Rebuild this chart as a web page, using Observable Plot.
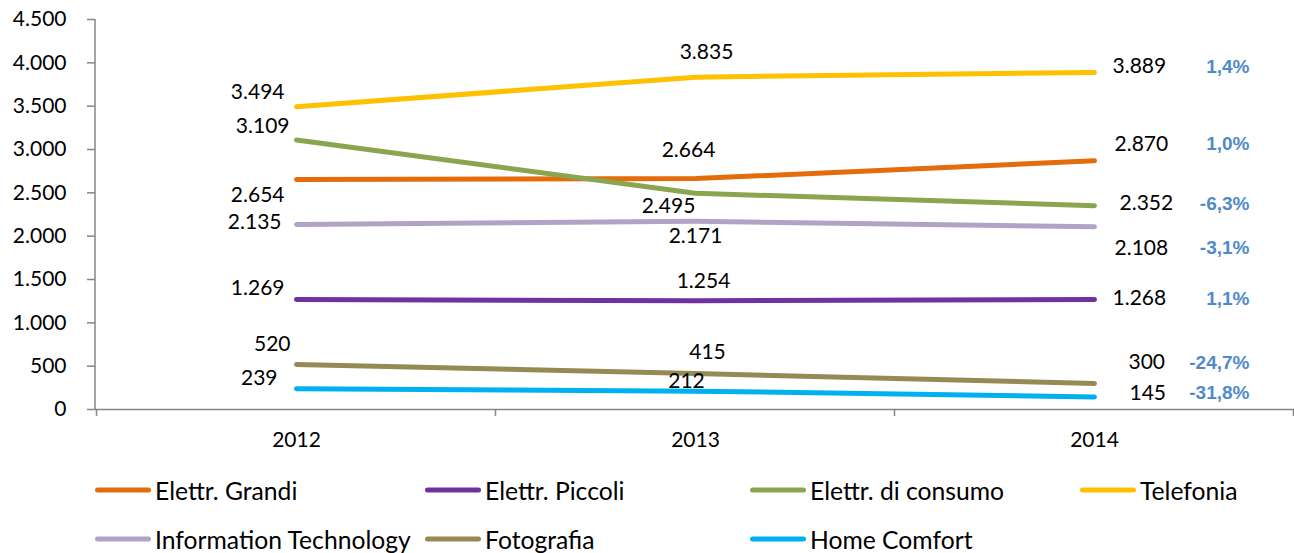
<!DOCTYPE html>
<html>
<head>
<meta charset="utf-8">
<script src="https://cdn.jsdelivr.net/npm/d3@7"></script>
<script src="https://cdn.jsdelivr.net/npm/@observablehq/plot@0.6"></script>
<style>
  html, body { margin: 0; padding: 0; background: #fff; }
  #wrap { width: 1294px; height: 553px; position: relative; font-family: Lato, "Open Sans", sans-serif; }
  #legend { position: relative; width: 1294px; height: 93px; }
  .item { position: absolute; display: flex; align-items: center; transform: translateY(-50%); font-size: 24.7px; color: #000; white-space: nowrap; }
  .sw { width: 56px; height: 5px; border-radius: 3px; margin-right: 4px; }
</style>
</head>
<body>
<div id="wrap">
  <div id="chart"></div>
  <div id="legend"></div>
</div>
<script>
// ---- data ----
const years = ["2012", "2013", "2014"];
const seriesNames = ["Elettr. Grandi", "Elettr. Piccoli", "Elettr. di consumo", "Telefonia", "Information Technology", "Fotografia", "Home Comfort"];
const elettrGrandi = [2654, 2664, 2870];
const elettrPiccoli = [1269, 1254, 1268];
const elettrConsumo = [3109, 2495, 2352];
const telefonia = [3494, 3835, 3889];
const informationTechnology = [2135, 2171, 2108];
const fotografia = [520, 415, 300];
const homeComfort = [239, 212, 145];
const changeLabels = ["1,0%", "1,1%", "-6,3%", "1,4%", "-3,1%", "-24,7%", "-31,8%"];
const yTicks = [0, 500, 1000, 1500, 2000, 2500, 3000, 3500, 4000, 4500];

// ---- styles / placement ----
const colors = ["#E46C0A", "#7030A0", "#89A54E", "#FFC000", "#B3A2C7", "#948A54", "#00B0F0"];
// label offsets [dx, dy] per series per year
const labelOffsets = [
  [[-12, 16], [-7, -28], [20, -17]],
  [[-12, -11], [8, -20], [18, -1]],
  [[-7, -14], [-27, 13], [25, -2]],
  [[-12, -14], [11, -25], [18, -6]],
  [[-15, -2], [0, 15], [20, 21]],
  [[-6, -20], [12, -21], [34, -21]],
  [[-19, -11], [-9, -10], [35, -4]]
];
const anchors = ["end", "middle", "start"];

const seriesValues = [elettrGrandi, elettrPiccoli, elettrConsumo, telefonia, informationTechnology, fotografia, homeComfort];
const table = [];
seriesNames.forEach((s, i) => years.forEach((y, j) => table.push({series: s, year: y, value: seriesValues[i][j], si: i, yi: j})));

const it = d3.formatLocale({decimal: ",", thousands: ".", grouping: [3], currency: ["", "€"]});
const fmt = it.format(",d");

const gray = "#868686";
const pctFont = "'Liberation Sans', Arial, Helvetica, sans-serif";

const labelMarks = [];
table.forEach(d => {
  const [dx, dy] = labelOffsets[d.si][d.yi];
  labelMarks.push(Plot.text([d], {x: "year", y: "value", text: r => fmt(r.value), dx, dy, textAnchor: anchors[d.yi], fontSize: 21, fill: "#000"}));
  if (d.yi === 2) {
    labelMarks.push(Plot.text([d], {x: "year", y: "value", text: r => changeLabels[r.si], dx: 155, dy, textAnchor: "end", fontSize: 19, fontWeight: "bold", fill: "#4F8BC9", fontFamily: pctFont}));
  }
});

function axisFrame(index, scales, values, dimensions) {
  const {x, y} = scales;
  const step = x(years[1]) - x(years[0]);
  const g = d3.create("svg:g").attr("stroke", gray).attr("stroke-width", 1.5).attr("fill", "none");
  const left = dimensions.marginLeft;
  g.append("line").attr("x1", left).attr("x2", left).attr("y1", y(4500)).attr("y2", y(0));
  const bounds = years.map(yy => x(yy) - step / 2).concat([x(years[years.length - 1]) + step / 2]);
  bounds.forEach(b => g.append("line").attr("x1", b).attr("x2", b).attr("y1", y(0)).attr("y2", y(0) + 7));
  return g.node();
}

const chart = Plot.plot({
  width: 1294,
  height: 460,
  marginLeft: 95,
  marginRight: 0,
  marginTop: 19,
  marginBottom: 51,
  style: {fontFamily: "Lato, 'Open Sans', sans-serif", background: "white"},
  x: {type: "point", domain: years, padding: 0.5, axis: null},
  y: {domain: [0, 4500], axis: null},
  color: {domain: seriesNames, range: colors},
  marks: [
    Plot.axisY({ticks: yTicks, tickSize: 8, tickPadding: 21, tickFormat: fmt, fontSize: 21, stroke: gray, fill: "#000", strokeWidth: 1.5, label: null}),
    Plot.ruleY([0], {stroke: gray, strokeWidth: 1.5}),
    axisFrame,
    Plot.text(years, {x: d => d, y: () => 0, dy: 31, text: d => d, fontSize: 21, fill: "#000"}),
    Plot.line(table, {x: "year", y: "value", z: "series", stroke: "series", strokeWidth: 5, strokeLinecap: "round", strokeLinejoin: "round"}),
    ...labelMarks
  ]
});
document.getElementById("chart").appendChild(chart);
// force the bold percentage labels into an Arial-like face
chart.querySelectorAll("text").forEach(n => {
  if (changeLabels.includes(n.textContent)) {
    n.style.fontFamily = pctFont;
    if (n.parentNode && n.parentNode.style) n.parentNode.style.fontFamily = pctFont;
  }
});

// ---- legend ----
const legendCols = [95, 425, 750, 1080];
const legend = document.getElementById("legend");
seriesNames.forEach((s, i) => {
  const row = Math.floor(i / 4), col = i % 4;
  const el = document.createElement("div");
  el.className = "item";
  el.style.left = legendCols[col] + "px";
  el.style.top = (row === 0 ? 30 : 79) + "px";
  const sw = document.createElement("div");
  sw.className = "sw";
  sw.style.background = colors[i];
  const tx = document.createElement("span");
  tx.textContent = s;
  el.appendChild(sw);
  el.appendChild(tx);
  legend.appendChild(el);
});
</script>
</body>
</html>
